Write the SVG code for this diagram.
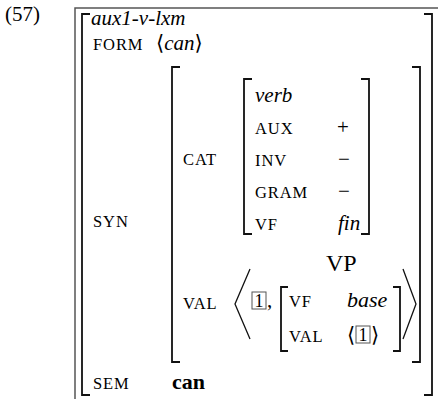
<svg xmlns="http://www.w3.org/2000/svg" width="438" height="399" viewBox="0 0 438 399">
<style>
text{font-family:"Liberation Serif","DejaVu Serif",serif;fill:#000}
.n{font-size:21px}
.it{font-size:21px;font-style:italic}
.sc{font-size:16.5px;letter-spacing:0.9px}
.b{fill:none;stroke:#111;stroke-width:1.8}
.ang{fill:none;stroke:#111;stroke-width:1.3}
.frame{fill:none;stroke:#555;stroke-width:1.5}
.box{fill:none;stroke:#555;stroke-width:1}
</style>
<rect width="438" height="399" fill="#fff"/>
<text class="n" x="5" y="21" style="font-size:21px">(57)</text>
<g id="frame"><path class="frame" d="M75,399 V8 H438"/></g>
<g id="outer">
<path class="b" d="M90,14 H82 V395 H90"/>
<path class="b" d="M424,14 H432 V395 H424"/>
<text class="it" x="91" y="25">aux1-v-lxm</text>
<text class="sc" x="93" y="50">FORM</text>
<text class="n" x="156" y="50">⟨<tspan font-style="italic">can</tspan>⟩</text>
<text class="sc" x="93" y="227">SYN</text>
<text class="sc" x="93" y="389">SEM</text>
<text class="n" x="172" y="389" font-weight="bold" style="font-size:22px">can</text>
</g>
<g id="syn">
<path class="b" d="M180,67 H172 V362 H180"/>
<path class="b" d="M412,67 H420 V362 H412"/>
<text class="sc" x="183" y="165">CAT</text>
<text class="sc" x="183" y="309">VAL</text>
</g>
<g id="cat">
<path class="b" d="M252,79 H244 V234 H252"/>
<path class="b" d="M361,79 H369 V234 H361"/>
<text class="it" x="255" y="102">verb</text>
<text class="sc" x="255" y="134">AUX</text>
<text class="n" x="337" y="134">+</text>
<text class="sc" x="255" y="166">INV</text>
<text class="n" x="338" y="166">−</text>
<text class="sc" x="255" y="198">GRAM</text>
<text class="n" x="338" y="198">−</text>
<text class="sc" x="255" y="230">VF</text>
<text class="it" x="338" y="230">fin</text>
</g>
<g id="val">
<path class="ang" d="M250,269 L235,304 L250,339"/>
<path class="ang" d="M403,269 L416,304 L403,339"/>
<rect class="box" x="252" y="292" width="14" height="17"/>
<text class="n" x="254.5" y="307" style="font-size:18px">1</text>
<text class="n" x="267" y="307">,</text>
<text class="n" x="326" y="271" style="font-size:24px">VP</text>
<path class="b" d="M288,287 H281 V351 H288"/>
<path class="b" d="M393,287 H400 V351 H393"/>
<text class="sc" x="289" y="307">VF</text>
<text class="it" x="347" y="307" style="font-size:22px">base</text>
<text class="sc" x="289" y="342">VAL</text>
<text class="n" x="347" y="342">⟨</text>
<rect class="box" x="356" y="326" width="14" height="17"/>
<text class="n" x="358.5" y="341" style="font-size:18px">1</text>
<text class="n" x="371" y="342">⟩</text>
</g>
</svg>
